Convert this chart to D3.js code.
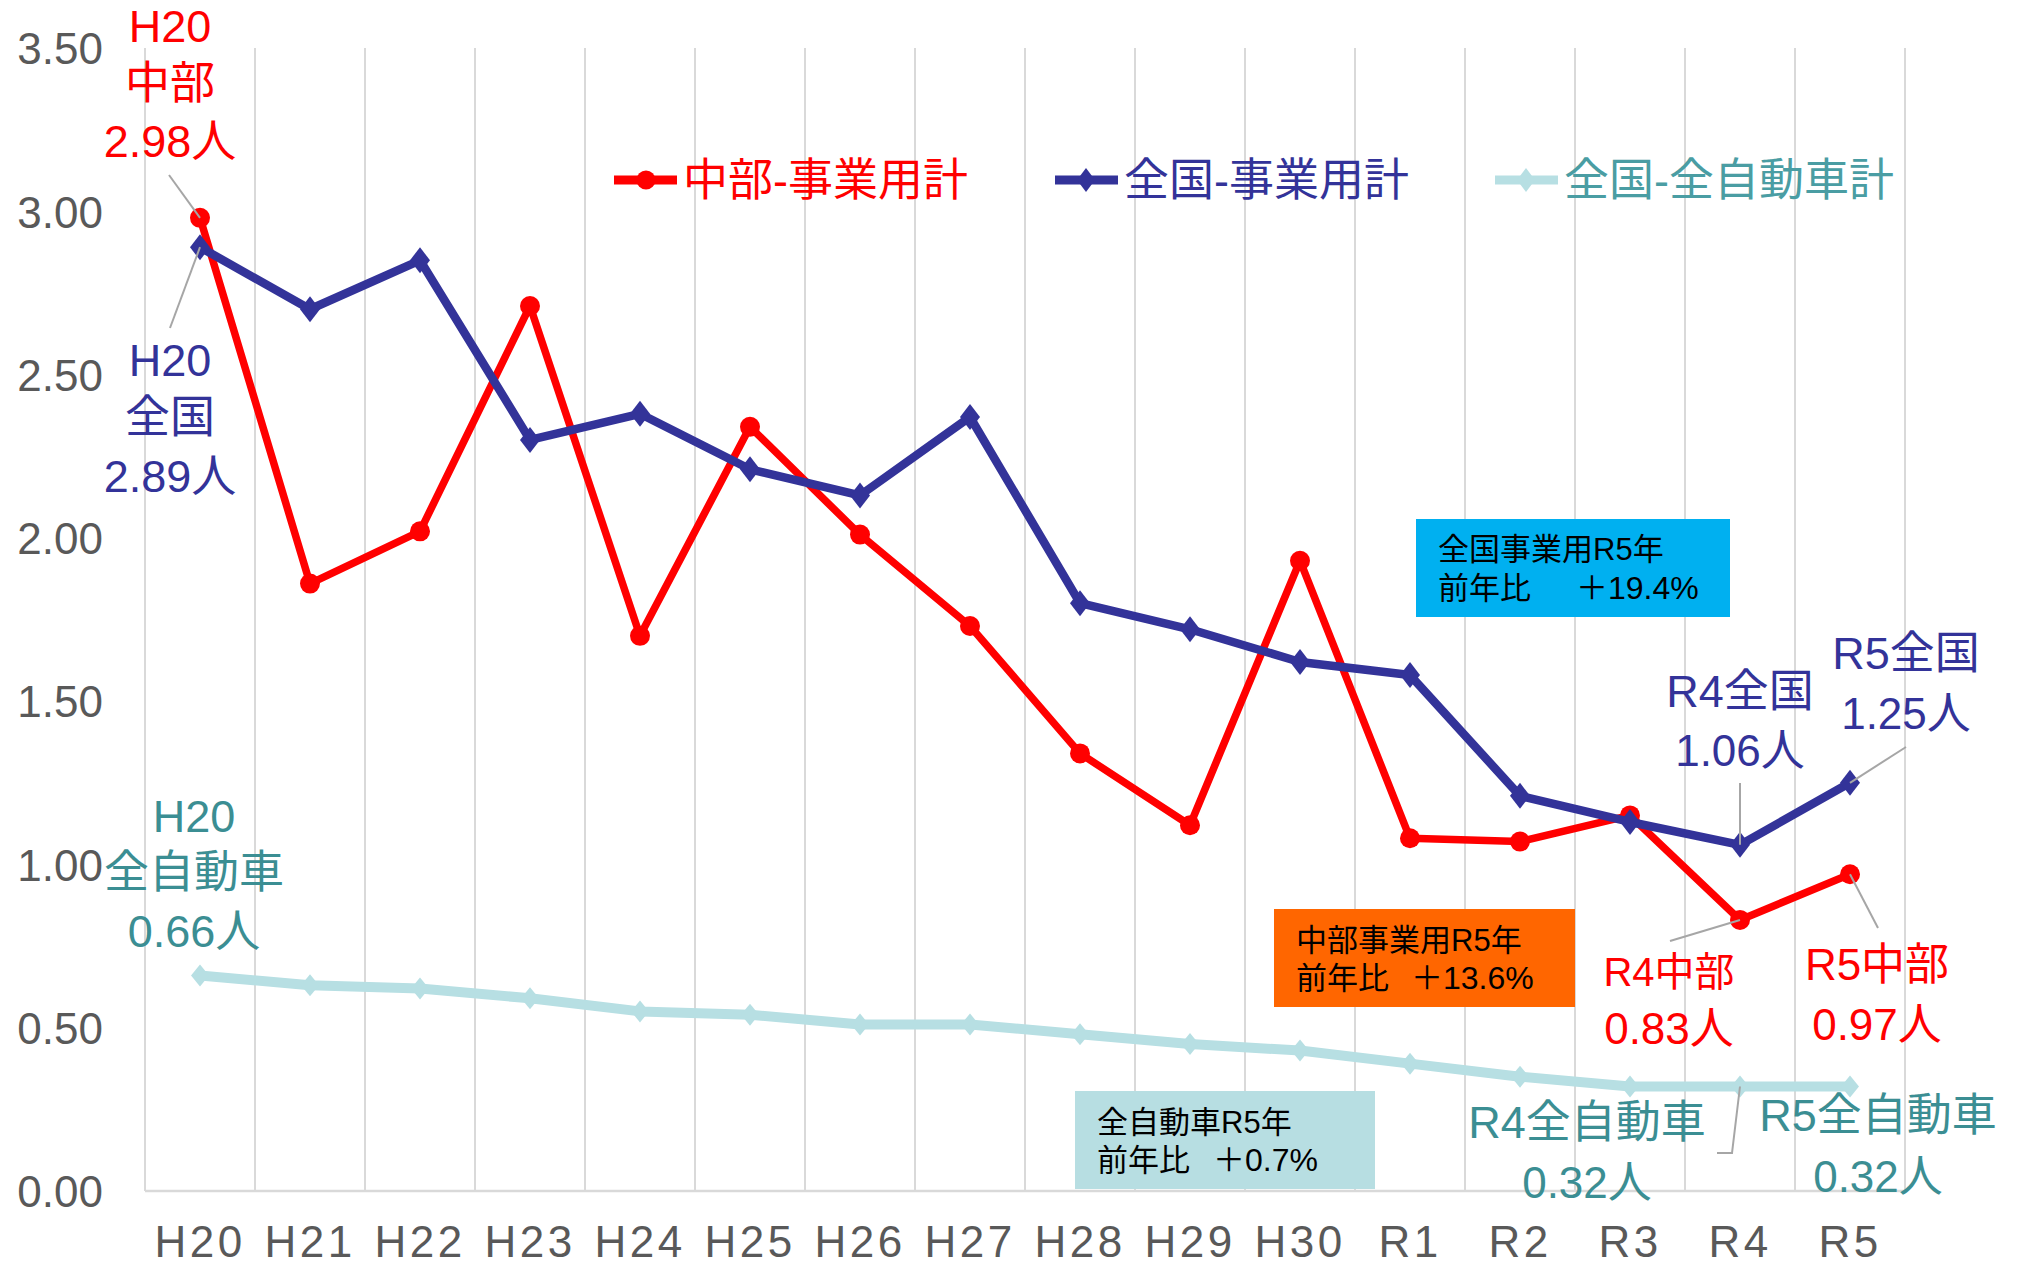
<!DOCTYPE html>
<html><head><meta charset="utf-8">
<script src="https://cdn.jsdelivr.net/npm/d3@7/dist/d3.min.js"></script>
<style>
body{margin:0;background:#fff}
svg{display:block}
text{font-family:"Liberation Sans",Arial,"Noto Sans CJK JP",sans-serif}
</style>
</head><body>
<svg id="chart" width="2025" height="1267"></svg>
<script>
// ---------------- data ----------------
const categories = ["H20","H21","H22","H23","H24","H25","H26","H27","H28","H29","H30","R1","R2","R3","R4","R5"];
const chubuJigyo   = [2.98,1.86,2.02,2.71,1.70,2.34,2.01,1.73,1.34,1.12,1.93,1.08,1.07,1.15,0.83,0.97];
const zenkokuJigyo = [2.89,2.70,2.85,2.30,2.38,2.21,2.13,2.37,1.80,1.72,1.62,1.58,1.21,1.13,1.06,1.25];
const zenkokuAll   = [0.66,0.63,0.62,0.59,0.55,0.54,0.51,0.51,0.48,0.45,0.43,0.39,0.35,0.32,0.32,0.32];
const yTicks = [0,0.5,1,1.5,2,2.5,3,3.5];
const seriesNames = ["中部-事業用計","全国-事業用計","全国-全自動車計"];
const boxTexts = [
  ["全国事業用R5年","前年比","＋19.4%"],
  ["中部事業用R5年","前年比","＋13.6%"],
  ["全自動車R5年","前年比","＋0.7%"]
];

// ---------------- styles ----------------
const RED="#FF0000", BLUE="#333399", TEAL_LINE="#B7DFE3", TEAL_TXT="#3B8E93", TEAL_LEG="#4A9DA3", AXIS_TXT="#595959", GRID="#D9D9D9", LEADER="#A6A6A6";

const svg = d3.select("#chart");
const x = d3.scaleBand().domain(categories).range([145,1905]).padding(0);
const cx = c => x(c) + x.bandwidth()/2;
const y = d3.scaleLinear().domain([0,3.5]).range([1191,48]);

// vertical gridlines at category boundaries
const bounds = categories.map(c=>x(c)).concat([x.range()[1]]);
svg.append("g").selectAll("line").data(bounds).join("line")
  .attr("x1",d=>d).attr("x2",d=>d).attr("y1",y(3.5)).attr("y2",y(0))
  .attr("stroke",GRID).attr("stroke-width",2);
svg.append("line").attr("x1",x.range()[0]).attr("x2",x.range()[1]).attr("y1",y(0)).attr("y2",y(0))
  .attr("stroke",GRID).attr("stroke-width",2.5);

// y axis
const gy = svg.append("g").attr("transform","translate(145,0)")
  .call(d3.axisLeft(y).tickValues(yTicks).tickFormat(d3.format(".2f")).tickSize(0).tickPadding(42));
gy.select(".domain").remove();
gy.attr("font-family",null).attr("font-size",null);
gy.selectAll("text").attr("font-size",44).attr("fill",AXIS_TXT).attr("dy","0.36em");

// x axis
const gx = svg.append("g").attr("transform",`translate(0,${y(0)})`)
  .call(d3.axisBottom(x).tickSize(0).tickPadding(35));
gx.select(".domain").remove();
gx.attr("font-family",null).attr("font-size",null);
gx.selectAll("text").attr("font-size",44).attr("fill",AXIS_TXT).attr("letter-spacing","3.5px");

// series
const diamond = (w,h)=>`M0,${-h}L${w},0L0,${h}L${-w},0Z`;
const line = d3.line().x((d,i)=>cx(categories[i])).y(d=>y(d));

function drawSeries(vals,color,width,marker){
  const g = svg.append("g");
  g.append("path").datum(vals).attr("d",line).attr("fill","none")
    .attr("stroke",color).attr("stroke-width",width).attr("stroke-linejoin","round");
  const m = g.selectAll(".m").data(vals).join(marker.type==="circle"?"circle":"path");
  if(marker.type==="circle"){
    m.attr("cx",(d,i)=>cx(categories[i])).attr("cy",d=>y(d)).attr("r",marker.r).attr("fill",color);
  } else {
    m.attr("d",diamond(marker.w,marker.h)).attr("transform",(d,i)=>`translate(${cx(categories[i])},${y(d)})`).attr("fill",color);
  }
}
drawSeries(zenkokuAll,TEAL_LINE,10,{type:"diamond",w:9,h:11});
drawSeries(chubuJigyo,RED,7.5,{type:"circle",r:10});
drawSeries(zenkokuJigyo,BLUE,8.5,{type:"diamond",w:10,h:13});

// legend
const legend = [
  {name:seriesNames[0],color:RED,txt:RED,x0:614,type:"circle"},
  {name:seriesNames[1],color:BLUE,txt:BLUE,x0:1055,type:"diamond"},
  {name:seriesNames[2],color:TEAL_LINE,txt:TEAL_LEG,x0:1495,type:"diamond"}
];
const ly = 180;
legend.forEach(l=>{
  svg.append("line").attr("x1",l.x0).attr("x2",l.x0+63).attr("y1",ly).attr("y2",ly)
    .attr("stroke",l.color).attr("stroke-width",9);
  if(l.type==="circle") svg.append("circle").attr("cx",l.x0+32).attr("cy",ly).attr("r",9.5).attr("fill",l.color);
  else svg.append("path").attr("d",diamond(9,12)).attr("transform",`translate(${l.x0+31},${ly})`).attr("fill",l.color);
  svg.append("text").attr("x",l.x0+69).attr("y",ly).attr("dy","0.36em").attr("font-size",45)
    .attr("fill",l.txt).text(l.name);
});

// data labels
const fmt = v => d3.format(".2f")(v)+"人";
const iH20=0, iR4=14, iR5=15;
const labels = [
  {lines:["H20","中部",fmt(chubuJigyo[iH20])], x:170, ys:[26,83,141], sizes:[45,45,45], color:RED,
   leader:[[169,175]], pt:[iH20,chubuJigyo[iH20]]},
  {lines:["H20","全国",fmt(zenkokuJigyo[iH20])], x:170, ys:[360,417,476], sizes:[45,45,45], color:BLUE,
   leader:[[170,328]], pt:[iH20,zenkokuJigyo[iH20]]},
  {lines:["H20","全自動車",fmt(zenkokuAll[iH20])], x:194, ys:[816,872,931], sizes:[45,45,45], color:TEAL_TXT},
  {lines:["R4全国",fmt(zenkokuJigyo[iR4])], x:1740, ys:[691,750], sizes:[45,44], color:BLUE,
   leader:[[1740,783]], pt:[iR4,zenkokuJigyo[iR4]]},
  {lines:["R5全国",fmt(zenkokuJigyo[iR5])], x:1906, ys:[653,713], sizes:[45,44], color:BLUE,
   leader:[[1906,747]], pt:[iR5,zenkokuJigyo[iR5]]},
  {lines:["R4中部",fmt(chubuJigyo[iR4])], x:1669, ys:[972,1028], sizes:[40,44], color:RED,
   leader:[[1670,941]], pt:[iR4,chubuJigyo[iR4]]},
  {lines:["R5中部",fmt(chubuJigyo[iR5])], x:1877, ys:[964,1024], sizes:[44,44], color:RED,
   leader:[[1878,928]], pt:[iR5,chubuJigyo[iR5]]},
  {lines:["R4全自動車",fmt(zenkokuAll[iR4])], x:1587, ys:[1122,1182], sizes:[45,44], color:TEAL_TXT,
   leader:[[1717,1153],[1732,1153]], pt:[iR4,zenkokuAll[iR4]]},
  {lines:["R5全自動車",fmt(zenkokuAll[iR5])], x:1878, ys:[1115,1176], sizes:[45,44], color:TEAL_TXT}
];
const gl = svg.append("g");
labels.forEach(l=>{
  if(l.leader){
    const pts = l.leader.concat([[cx(categories[l.pt[0]]), y(l.pt[1])]]);
    gl.append("path").attr("d",d3.line()(pts)).attr("fill","none").attr("stroke",LEADER).attr("stroke-width",2);
  }
  l.lines.forEach((t,k)=>{
    gl.append("text").attr("x",l.x).attr("y",l.ys[k]).attr("dy","0.36em").attr("text-anchor","middle")
      .attr("font-size",l.sizes[k]).attr("fill",l.color).text(t);
  });
});

// annotation boxes
const boxes = [
  {x:1416,y:519,w:314,h:98,fill:"#00B0F0",tx:1438,ty:[549,588],px:1576,text:boxTexts[0]},
  {x:1274,y:909,w:301,h:98,fill:"#FF6600",tx:1296,ty:[940,978],px:1411,text:boxTexts[1]},
  {x:1075,y:1091,w:300,h:98,fill:"#B7DEE2",tx:1097,ty:[1122,1160],px:1213,text:boxTexts[2]}
];
boxes.forEach(b=>{
  svg.append("rect").attr("x",b.x).attr("y",b.y).attr("width",b.w).attr("height",b.h).attr("fill",b.fill);
  const f = "'Noto Sans CJK JP',sans-serif";
  svg.append("text").attr("x",b.tx).attr("y",b.ty[0]).attr("dy","0.36em").attr("font-size",31)
    .attr("font-family",f).attr("fill","#000").text(b.text[0]);
  const t2 = svg.append("text").attr("y",b.ty[1]).attr("dy","0.36em").attr("font-size",31)
    .attr("font-family",f).attr("fill","#000");
  t2.append("tspan").attr("x",b.tx).text(b.text[1]);
  t2.append("tspan").attr("x",b.px).attr("font-size",32).text(b.text[2]);
});
</script>
</body></html>
